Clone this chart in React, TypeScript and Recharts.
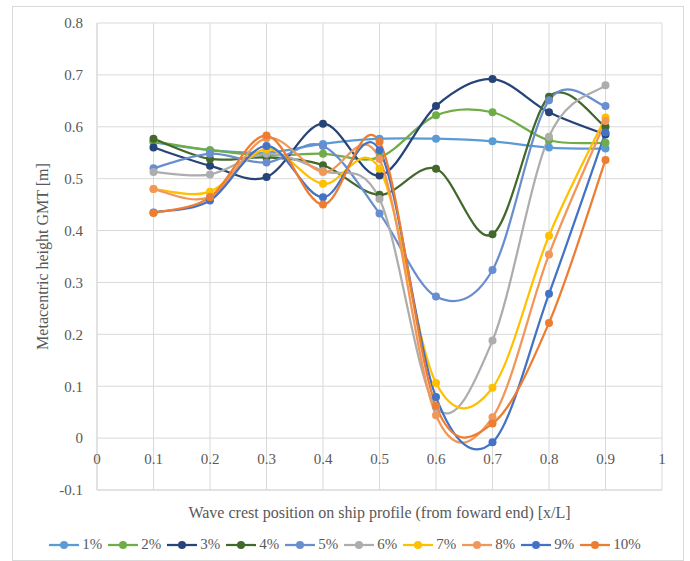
import React from 'react';
import { LineChart, Line, XAxis, YAxis, CartesianGrid, Label } from 'recharts';

const positions = [0.1, 0.2, 0.3, 0.4, 0.5, 0.6, 0.7, 0.8, 0.9];
const xTicks = [0, 0.1, 0.2, 0.3, 0.4, 0.5, 0.6, 0.7, 0.8, 0.9, 1];
const yTicks = [-0.1, 0, 0.1, 0.2, 0.3, 0.4, 0.5, 0.6, 0.7, 0.8];

const names = ['1%', '2%', '3%', '4%', '5%', '6%', '7%', '8%', '9%', '10%'];
const colors = ['#5B9BD5', '#70AD47', '#264478', '#43682B', '#698ED0', '#ADADAD', '#FFC000', '#F1975A', '#4472C4', '#ED7D31'];

const s1 = [0.57, 0.555, 0.55, 0.567, 0.577, 0.577, 0.572, 0.56, 0.558];
const s2 = [0.572, 0.555, 0.545, 0.548, 0.541, 0.622, 0.628, 0.574, 0.569];
const s3 = [0.56, 0.525, 0.503, 0.606, 0.506, 0.64, 0.692, 0.628, 0.585];
const s4 = [0.577, 0.538, 0.541, 0.526, 0.469, 0.519, 0.393, 0.658, 0.6];
const s5 = [0.52, 0.548, 0.531, 0.563, 0.433, 0.273, 0.324, 0.651, 0.64];
const s6 = [0.513, 0.508, 0.548, 0.515, 0.461, 0.06, 0.188, 0.581, 0.68];
const s7 = [0.48, 0.475, 0.557, 0.49, 0.519, 0.106, 0.097, 0.39, 0.618];
const s8 = [0.48, 0.465, 0.578, 0.513, 0.538, 0.044, 0.04, 0.354, 0.611];
const s9 = [0.435, 0.458, 0.563, 0.464, 0.555, 0.079, -0.008, 0.278, 0.589];
const s10 = [0.434, 0.464, 0.583, 0.45, 0.571, 0.062, 0.028, 0.222, 0.536];

const series = [s1, s2, s3, s4, s5, s6, s7, s8, s9, s10];

const data = positions.map((x, i) => {
  const row: Record<string, number> = { x };
  series.forEach((s, k) => {
    row['s' + k] = s[i];
  });
  return row;
});

const FONT = '"Liberation Serif", "Times New Roman", serif';
const TEXT = '#595959';
const GRID = '#D9D9D9';

// Excel-style smoothed line (Catmull-Rom through the points)
const smoothCurve = (context: any) => {
  let pts: number[][] = [];
  return {
    areaStart() {},
    areaEnd() {},
    lineStart() {
      pts = [];
    },
    point(x: number, y: number) {
      pts.push([+x, +y]);
    },
    lineEnd() {
      const n = pts.length;
      if (!n) return;
      context.moveTo(pts[0][0], pts[0][1]);
      for (let i = 0; i < n - 1; i++) {
        const p0 = pts[Math.max(i - 1, 0)];
        const p1 = pts[i];
        const p2 = pts[i + 1];
        const p3 = pts[Math.min(i + 2, n - 1)];
        context.bezierCurveTo(
          p1[0] + (p2[0] - p0[0]) / 6,
          p1[1] + (p2[1] - p0[1]) / 6,
          p2[0] - (p3[0] - p1[0]) / 6,
          p2[1] - (p3[1] - p1[1]) / 6,
          p2[0],
          p2[1]
        );
      }
    },
  };
};

const fmt = (v: number) => String(Math.round(v * 10) / 10);

const XTick = ({ x, y, payload }: any) => (
  <text x={x} y={y - 33} dy="0.35em" textAnchor="middle" fill={TEXT} fontSize={15} fontFamily={FONT}>
    {fmt(payload.value)}
  </text>
);

export default function App() {
  return (
    <div
      style={{
        position: 'absolute',
        left: 12,
        top: 6,
        width: 672,
        height: 555,
        boxSizing: 'border-box',
        border: `1px solid ${GRID}`,
        background: '#fff',
      }}
    >
      <LineChart width={670} height={523} data={data} margin={{ top: 16, right: 21, bottom: 0, left: 0 }}>
        <CartesianGrid stroke={GRID} strokeWidth={1} />
        <XAxis
          dataKey="x"
          type="number"
          domain={[0, 1]}
          ticks={xTicks}
          height={40}
          tickLine={false}
          tickSize={0}
          axisLine={{ stroke: GRID }}
          tick={<XTick />}
          interval={0}
        >
          <Label
            content={({ viewBox }: any) => (
              <text
                x={viewBox.x + viewBox.width / 2}
                y={viewBox.y + 22}
                dy="0.35em"
                textAnchor="middle"
                fill={TEXT}
                fontSize={16}
                fontFamily={FONT}
              >
                Wave crest position on ship profile (from foward end) [x/L]
              </text>
            )}
          />
        </XAxis>
        <YAxis
          type="number"
          domain={[-0.1, 0.8]}
          ticks={yTicks}
          width={84}
          tickLine={false}
          tickSize={0}
          tickMargin={14}
          axisLine={{ stroke: GRID }}
          tickFormatter={fmt}
          tick={{ fill: TEXT, fontSize: 15, fontFamily: FONT }}
          interval={0}
        >
          <Label
            content={({ viewBox }: any) => {
              const cx = 29;
              const cy = viewBox.y + viewBox.height / 2;
              return (
                <text
                  x={cx}
                  y={cy}
                  dy="0.35em"
                  textAnchor="middle"
                  transform={`rotate(-90 ${cx} ${cy})`}
                  fill={TEXT}
                  fontSize={16}
                  fontFamily={FONT}
                >
                  Metacentric height GMT [m]
                </text>
              );
            }}
          />
        </YAxis>
        {names.map((n, k) => (
          <Line
            key={n}
            name={n}
            dataKey={'s' + k}
            type={smoothCurve as any}
            stroke={colors[k]}
            strokeWidth={2.25}
            dot={{ r: 4, fill: colors[k], stroke: colors[k], strokeWidth: 0 }}
            activeDot={false}
            isAnimationActive={false}
          />
        ))}
      </LineChart>
      <div
        style={{
          position: 'absolute',
          left: 0,
          top: 529,
          width: 670,
          display: 'flex',
          justifyContent: 'center',
          alignItems: 'center',
          fontFamily: FONT,
          fontSize: 15,
          color: TEXT,
        }}
      >
        {names.map((n, k) => (
          <div key={n} style={{ display: 'flex', alignItems: 'center', marginRight: 6 }}>
            <svg width={30} height={12} style={{ marginRight: 3 }}>
              <line x1={0} y1={6} x2={30} y2={6} stroke={colors[k]} strokeWidth={2.25} />
              <circle cx={15} cy={6} r={4} fill={colors[k]} />
            </svg>
            <span>{n}</span>
          </div>
        ))}
      </div>
    </div>
  );
}
